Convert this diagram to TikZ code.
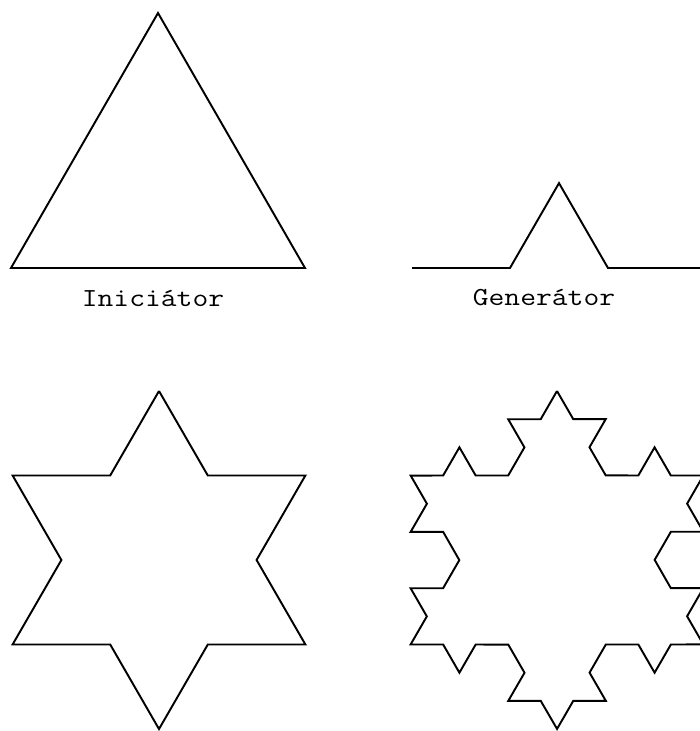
\documentclass[tikz,border=0pt]{standalone}
\usepackage{fontspec}
\setmonofont{Latin Modern Mono}[FakeStretch=1.18]
\usetikzlibrary{decorations.fractals}

\tikzset{
  curve/.style={line width=1.1pt, black, line join=miter},
  caption/.style={font=\fontsize{14.8}{18}\selectfont\ttfamily, inner sep=0pt},
}

\begin{document}
\begin{tikzpicture}[x=0.02cm, y=-0.02cm, decoration=Koch snowflake]
  \clip (0,0) rectangle (700,731);

  % Initiator
  \draw[curve] (158,13) -- (305,268) -- (11,268) -- cycle;
  \node[caption] (init) at (153,298) {Iniciátor};

  % Generator
  \draw[curve] decorate{ (412,268) -- (706,268) };
  \node[caption] (gen) at (544,298) {Generátor};

  % first step
  \draw[curve] decorate{ (159,391) -- (305.4,644.5) -- (12.6,644.5) -- cycle };

  % second step
  \draw[curve] decorate{ decorate{ (557,391) -- (703.4,644.5) -- (410.6,644.5) -- cycle } };
\end{tikzpicture}
\end{document}
